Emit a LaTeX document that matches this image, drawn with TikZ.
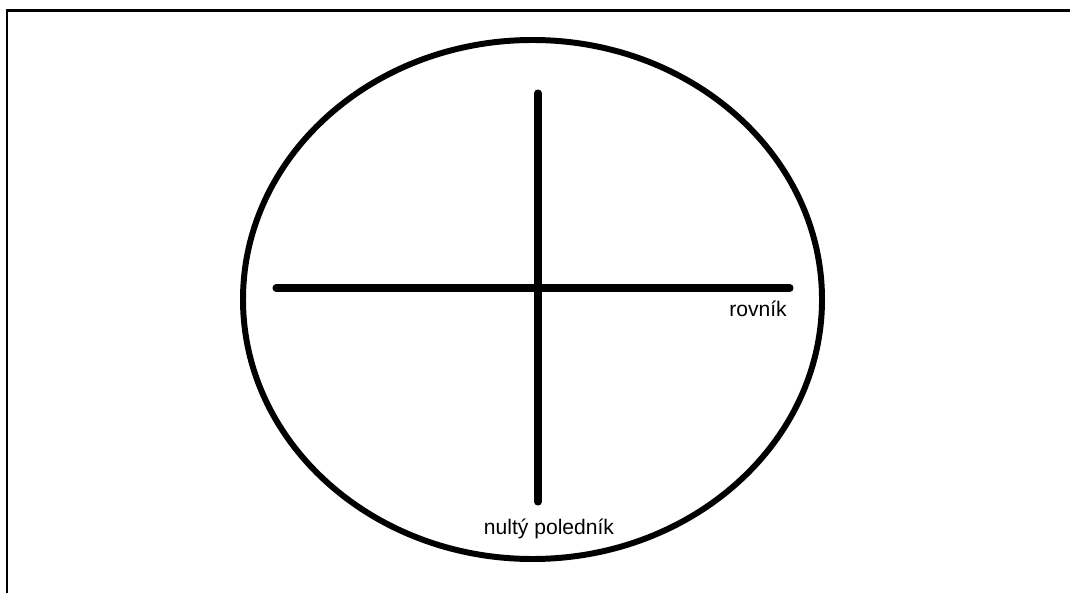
\documentclass[tikz,border=0pt]{standalone}
\usepackage{fontspec}
\setmainfont{Liberation Sans}
\usepackage{tikz}
\usepackage{xcolor}

\begin{document}
\begin{tikzpicture}[font=\fontsize{12}{14}\selectfont,line cap=round,
  frame/.style={line width=1.6pt,line cap=butt},
  globe/.style={line width=3.4pt},
  cross/.style={line width=4pt}]
\useasboundingbox (0,0) rectangle (21.4,11.86);
\draw[frame] (0.14,0) -- (0.14,11.65) -- (21.4,11.65);
\draw[globe] (10.65,5.87) ellipse (5.79 and 5.19);
\draw[cross] (5.52,6.1) -- (15.8,6.1);
\draw[cross] (10.76,10.0) -- (10.76,1.82);
\node[anchor=base] (rovnik) at (15.16,5.52) {rovník};
\node[anchor=base] (polednik) at (10.98,1.18) {nultý poledník};
\end{tikzpicture}
\end{document}
